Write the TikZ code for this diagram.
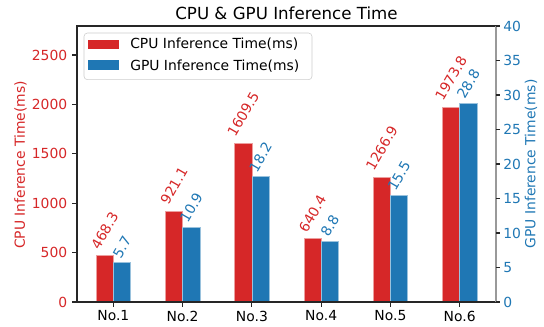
\documentclass[tikz,border=0pt]{standalone}
\usepackage{fontspec}
\setmainfont{DejaVu Sans}
\usepackage{graphicx}
\definecolor{cpured}{HTML}{D62728}
\definecolor{gpublue}{HTML}{1F77B4}

\begin{document}
\begin{tikzpicture}[x=0.72pt, y=0.72pt, font=\fontsize{10}{12}\selectfont,
    cpubar/.style={fill=cpured, draw=cpured!45!white, line width=0.4pt},
    gpubar/.style={fill=gpublue, draw=gpublue!45!white, line width=0.4pt},
    spine/.style={line width=0.8pt, black!85},
    tickmark/.style={line width=0.8pt, black!85},
    vallabel/.style={anchor=south, inner sep=0pt},
    ticklabel/.style={inner sep=0pt}]
    \useasboundingbox (-77,-25) rectangle (467,302);
    % scales: ms per pixel (left), ms per pixel (right), bar spacing
    \def\cs{0.0988}
    \def\gs{6.9}
    \def\dx{69.26}
    \def\xo{36.36}
    \def\bw{17.3}

    % Bars and their values
    \foreach \i/\n/\cpu/\gpu in {0/1/468.3/5.7, 1/2/921.1/10.9, 2/3/1609.5/18.2,
                                 3/4/640.4/8.8, 4/5/1266.9/15.5, 5/6/1973.8/28.8} {
        \pgfmathsetmacro{\xc}{\xo+\i*\dx}
        \draw[cpubar] ({\xc-\bw},0) rectangle ({\xc},{\cpu*\cs});
        \draw[gpubar] ({\xc},0) rectangle ({\xc+\bw},{\gpu*\gs});
        \node[vallabel, text=cpured] (cpuval\n) at ({\xc-\bw/2},{\cpu*\cs+5}) {\rotatebox{60}{\cpu}};
        \node[vallabel, text=gpublue] (gpuval\n) at ({\xc+\bw/2},{\gpu*\gs+3}) {\rotatebox{60}{\gpu}};
        \draw[tickmark] (\xc,0) -- (\xc,-4.9);
        \node[ticklabel, anchor=north] (cat\n) at (\xc,-8.5) {No.\n};
    }

    % Axes frame
    \draw[spine] (0,0) -- (0,276) -- (419,276);
    \draw[spine] (0,0) -- (419,0);
    \draw[line width=1.4pt, black!40] (419,0) -- (419,276);

    % Left axis (CPU)
    \foreach \v in {0,500,...,2500} {
        \draw[tickmark] (0,{\v*\cs}) -- (-4.9,{\v*\cs});
        \node[ticklabel, anchor=east, text=cpured] (cputick\v) at (-9.5,{\v*\cs}) {\v};
    }
    \node[rotate=90, text=cpured] (cpuaxis) at (-56.5,137) {CPU Inference Time(ms)};

    % Right axis (GPU)
    \foreach \v in {0,5,...,40} {
        \draw[tickmark] (419,{\v*\gs}) -- (422.5,{\v*\gs});
        \node[ticklabel, anchor=west, text=gpublue] (gputick\v) at (426,{\v*\gs}) {\v};
    }
    \node[rotate=90, text=gpublue] (gpuaxis) at (454,138) {GPU Inference Time(ms)};

    % Title
    \node[anchor=base, font=\fontsize{12}{14}\selectfont] (title) at (209.5,282) {CPU \& GPU Inference Time};

    % Legend
    \draw[black!20, fill=white, rounded corners=2.5] (7,222.3) rectangle (235,269);
    \fill[cpured] (11.3,253) rectangle (42,261.7);
    \fill[gpublue] (11.3,231.7) rectangle (42,241.7);
    \node[ticklabel, anchor=west] (cpukey) at (53,257.8) {CPU Inference Time(ms)};
    \node[ticklabel, anchor=west] (gpukey) at (53,235.8) {GPU Inference Time(ms)};
\end{tikzpicture}
\end{document}
